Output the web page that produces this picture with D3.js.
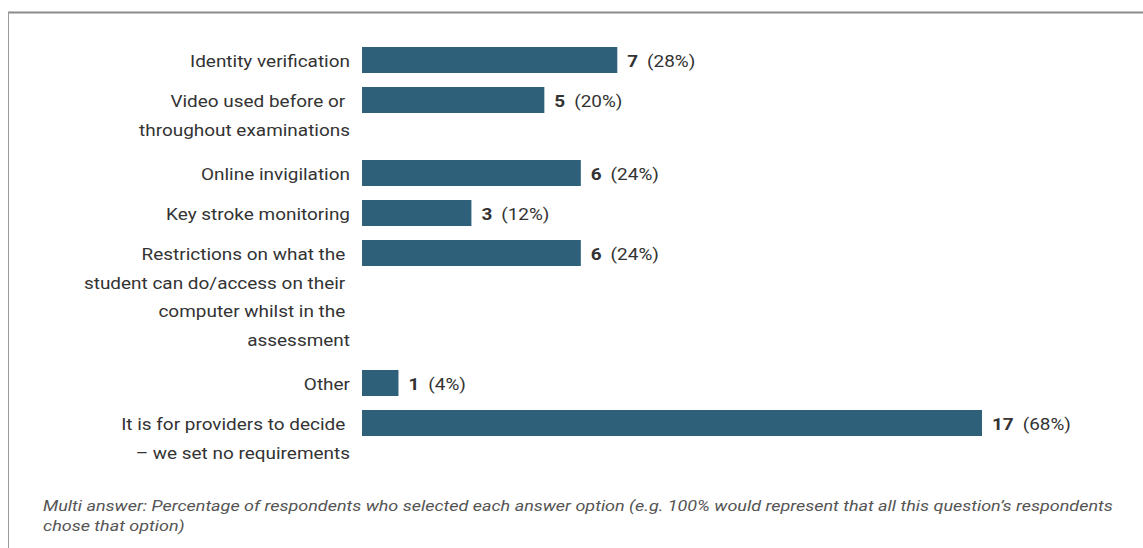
<!DOCTYPE html>
<html>
<head>
<meta charset="utf-8">
<script src="https://cdn.jsdelivr.net/npm/d3@7"></script>
<style>
  body { margin: 0; background: #fff; }
  svg { display: block; font-family: Roboto, "Noto Sans", sans-serif; }
  .lbl { white-space: pre; }
</style>
</head>
<body>
<svg id="chart" width="1143" height="548"></svg>
<script>
// data
const categories = [
  ["Identity verification"],
  ["Video used before or", "throughout examinations"],
  ["Online invigilation"],
  ["Key stroke monitoring"],
  ["Restrictions on what the", "student can do/access on their", "computer whilst in the", "assessment"],
  ["Other"],
  ["It is for providers to decide", "\u2013 we set no requirements"]
];
const counts = [7, 5, 6, 3, 6, 1, 17];
const percents = [28, 20, 24, 12, 24, 4, 68];
const footnote = [
  "Multi answer: Percentage of respondents who selected each answer option (e.g. 100% would represent that all this question\u2019s respondents",
  "chose that option)"
];

const svg = d3.select("#chart");
const lineH = 28.5;
const barH = 26;
const x0 = 362;
const sx = 1.115;     // reference text is a bit wider than plain Roboto
const footSx = 1.2;

// frame (top + left only)
svg.append("line").attr("x1", 8).attr("x2", 1143).attr("y1", 12.5).attr("y2", 12.5)
  .attr("stroke", "#8a8a8a").attr("stroke-width", 2);
svg.append("line").attr("x1", 8.5).attr("x2", 8.5).attr("y1", 12).attr("y2", 548)
  .attr("stroke", "#9a9a9a").attr("stroke-width", 1);

const x = d3.scaleLinear().domain([0, 17]).range([x0, 982]);

// row heights depend on how many lines the label wraps to
const rowH = categories.map(c => c.length === 1 ? 40 : c.length * lineH + 16);
const rowTop = [];
rowH.reduce((acc, h, i) => { rowTop[i] = acc; return acc + h; }, 40);

const rows = svg.append("g").selectAll("g")
  .data(categories.map((c, i) => ({ lines: c, n: counts[i], p: percents[i], top: rowTop[i] })))
  .join("g")
  .attr("transform", d => `translate(0,${d.top})`);

rows.append("rect")
  .attr("x", x0)
  .attr("y", 7)
  .attr("width", d => x(d.n) - x0)
  .attr("height", barH)
  .attr("fill", "#2e6179");

// wrapped lines keep their trailing space, like the original word wrap
rows.append("g")
  .attr("transform", `translate(350,0) scale(${sx},1)`)
  .append("text")
  .attr("class", "lbl")
  .attr("text-anchor", "end")
  .attr("font-size", "17px")
  .attr("fill", "#333")
  .selectAll("tspan")
  .data(d => d.lines.map((t, i) => i < d.lines.length - 1 ? t + " " : t))
  .join("tspan")
  .attr("x", 0)
  .attr("y", (d, i) => 21.5 + i * lineH)
  .attr("dy", "0.35em")
  .text(d => d);

const val = rows.append("g")
  .attr("transform", d => `translate(${x(d.n) + 10},0) scale(${sx},1)`)
  .append("text")
  .attr("y", 21.5)
  .attr("dy", "0.35em")
  .attr("font-size", "17px")
  .attr("fill", "#333");
val.append("tspan").attr("font-weight", "bold").text(d => d.n);
val.append("tspan").attr("dx", 8).text(d => `(${d.p}%)`);

// footnote
svg.append("g")
  .attr("transform", `translate(43,0) scale(${footSx},1)`)
  .append("text")
  .attr("font-size", "15px")
  .attr("font-style", "italic")
  .attr("fill", "#555")
  .selectAll("tspan")
  .data(footnote)
  .join("tspan")
  .attr("x", 0)
  .attr("y", (d, i) => 511 + i * 20)
  .text(d => d);
</script>
</body>
</html>
